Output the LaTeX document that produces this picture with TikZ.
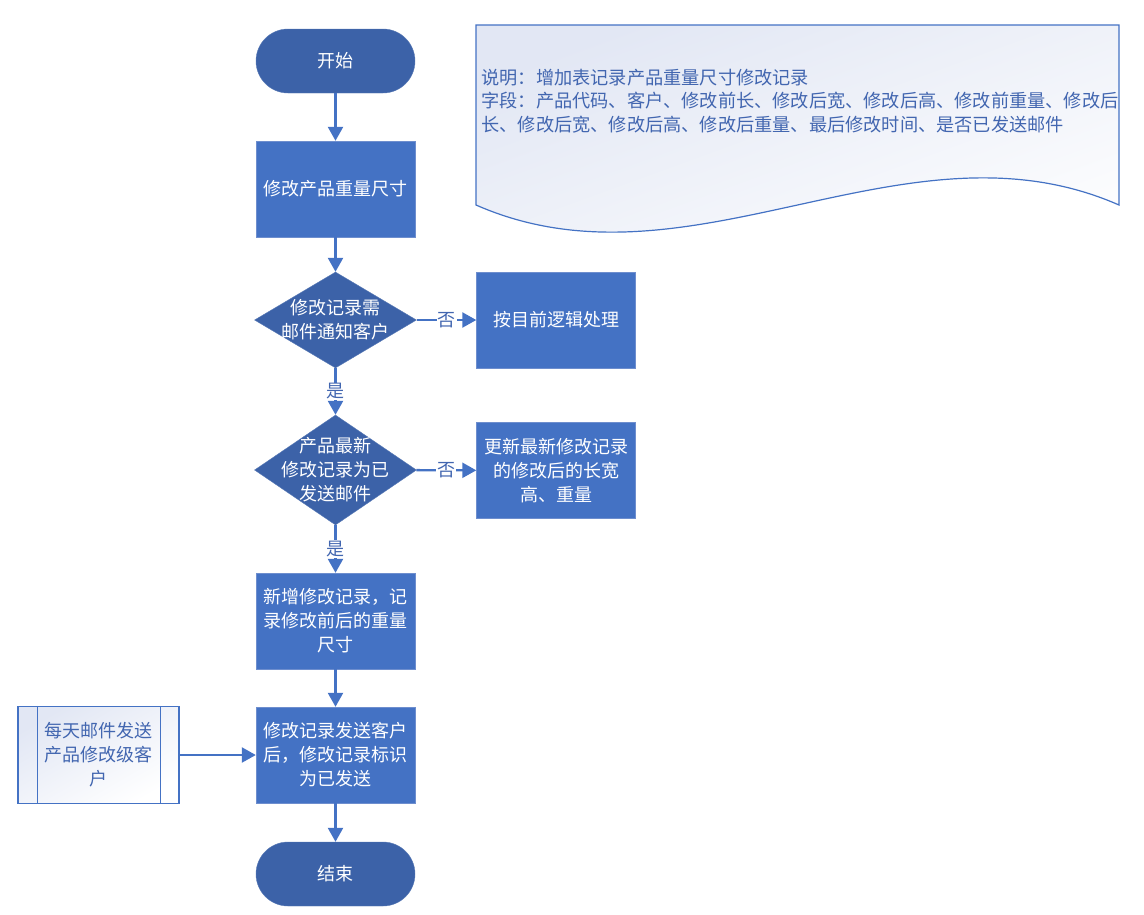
\documentclass[tikz,border=0pt]{standalone}
\usepackage{fontspec}
\newfontfamily\cjk{Noto Sans CJK SC}
\usetikzlibrary{arrows.meta,positioning,shapes.geometric}
\definecolor{boxblue}{RGB}{68,114,196}
\definecolor{darkblue}{RGB}{60,98,168}
\definecolor{edgeblue}{RGB}{110,142,206}
\definecolor{textblue}{RGB}{66,102,176}
\definecolor{shadeblue}{RGB}{226,231,244}

\begin{document}
\begin{tikzpicture}
		[x=1pt,y=-1pt,
		every node/.style={font=\cjk\fontsize{18}{24}\selectfont},
		term/.style={rectangle,rounded corners=32pt,fill=darkblue,draw=darkblue!85!white,
			text=white,minimum width=159pt,minimum height=64pt,inner sep=0pt},
		proc/.style={rectangle,fill=boxblue,draw=edgeblue,text=white,
			minimum width=159pt,minimum height=96pt,text width=154pt,align=center,inner sep=0pt},
		dec/.style={diamond,fill=darkblue,draw=darkblue!85!white,text=white,
			minimum width=162pt,align=center,inner sep=-22pt},
		lab/.style={fill=white,text=textblue,inner sep=1pt},
		arr/.style={draw=boxblue,line width=2.4pt,-{Triangle[width=15pt,length=14pt]}}]
		\useasboundingbox (0,0) rectangle (1144,914);
		
		% note
		\shade[top color=shadeblue,bottom color=white,shading angle=20,draw=boxblue,line width=1.2pt]
		(476,25) -- (1119,25) -- (1119,205) .. controls (905,111) and (690,299) .. (476,205) -- cycle;
		\node[anchor=west,align=left,text=textblue,font=\cjk\fontsize{18.2}{23.5}\selectfont] (note) at (478,101)
		{说明：增加表记录产品重量尺寸修改记录\\
			字段：产品代码、客户、修改前长、修改后宽、修改后高、修改前重量、修改后\\
			长、修改后宽、修改后高、修改后重量、最后修改时间、是否已发送邮件};
		
		\node[term] (s) at (335.5,61) {开始};
		\node[proc] (1) at (335.5,189) {修改产品重量尺寸};
		\node[dec,minimum height=96pt] (d1) at (335.5,320) {修改记录需\\邮件通知客户};
		\node[proc] (r1) at (556,320) {按目前逻辑处理};
		\node[dec,minimum height=110pt] (d2) at (335.5,470) {产品最新\\修改记录为已\\发送邮件};
		\node[proc] (r2) at (556,470.5) {更新最新修改记录\\的修改后的长宽\\高、重量};
		\node[proc] (2) at (335.5,621) {新增修改记录，记\\录修改前后的重量\\尺寸};
		\node[proc] (3) at (335.5,755) {修改记录发送客户\\后，修改记录标识\\为已发送};
		\node[term] (e) at (335.5,874) {结束};
		
		\node[rectangle,top color=shadeblue,bottom color=white,shading angle=30,draw=boxblue,line width=1.2pt,
		text=textblue,minimum width=161pt,minimum height=97pt,text width=120pt,align=center,inner sep=0pt]
		(sub) at (98.5,755) {每天邮件发送\\产品修改级客\\户};
		\draw[boxblue,line width=1.2pt] ([xshift=20pt]sub.north west) -- ([xshift=20pt]sub.south west);
		\draw[boxblue,line width=1.2pt] ([xshift=-19pt]sub.north east) -- ([xshift=-19pt]sub.south east);
		
		\draw[arr] (s) -- (1);
		\draw[arr] (1) -- (d1);
		\draw[arr] (d1) -- node[lab] {否} (r1);
		\draw[arr] (d1) -- node[lab] {是} (d2);
		\draw[arr] (d2) -- node[lab] {否} (r2);
		\draw[arr] (d2) -- node[lab] {是} (2);
		\draw[arr] (2) -- (3);
		\draw[arr] (sub) -- (3);
		\draw[arr] (3) -- (e);
\end{tikzpicture}
\end{document}
